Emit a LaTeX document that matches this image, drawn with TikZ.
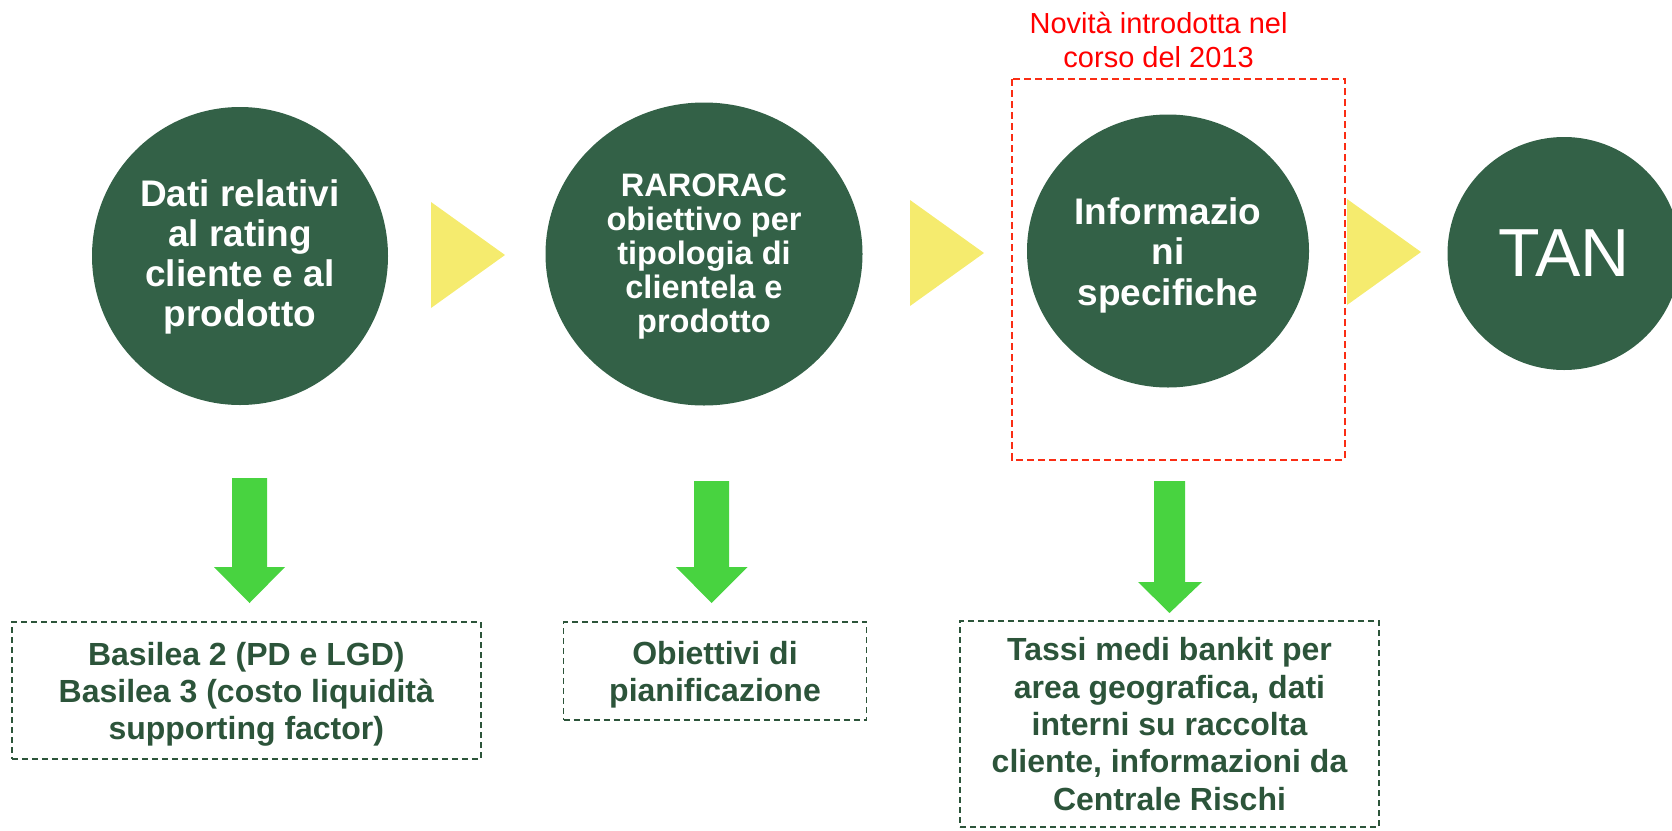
\documentclass[tikz,border=0pt]{standalone}
\usepackage{fontspec}
\setmainfont{Liberation Sans}
\usetikzlibrary{shapes.geometric}
\definecolor{darkgreen}{RGB}{51,97,71}
\definecolor{textgreen}{RGB}{44,84,58}
\definecolor{flowyellow}{RGB}{245,235,110}
\definecolor{arrowgreen}{RGB}{72,211,64}
\definecolor{newred}{RGB}{250,45,20}
\def\flowtri#1#2{(#1,#2-53) -- (#1+74,#2) -- (#1,#2+53) -- cycle}
\def\topstrut#1{\rule{0pt}{#1}}

\begin{document}
\begin{tikzpicture}[x=1pt,y=-1pt,
    bubble/.style={ellipse, fill=darkgreen, text=white, inner sep=0pt, align=center},
    infobox/.style={draw=textgreen, line width=1.5pt, dash pattern=on 6pt off 4pt,
        text=textgreen, align=center, inner sep=0pt,
        font=\bfseries\fontsize{32}{37.3}\selectfont}]
    \clip (0,0) rectangle (1672,830);

    % circles
    \node[bubble, minimum width=296pt, minimum height=298pt,
        font=\bfseries\fontsize{37}{40}\selectfont] (dati) at (240,256)
        {\topstrut{29pt}Dati relativi\\al rating\\cliente e al\\prodotto};
    \node[bubble, minimum width=317pt, minimum height=303pt,
        font=\bfseries\fontsize{32.5}{34}\selectfont] (raroc) at (704,254)
        {\topstrut{27pt}RARORAC\\obiettivo per\\tipologia di\\clientela e\\prodotto};
    \node[bubble, minimum width=282pt, minimum height=273pt,
        font=\bfseries\fontsize{37}{40.5}\selectfont] (info) at (1168,251)
        {\topstrut{35pt}Informazio\\ni\\specifiche};
    \node[bubble, minimum width=233pt, minimum height=233pt,
        font=\fontsize{68}{72}\selectfont] (tan) at (1564,253.5) {TAN};

    % yellow steps
    \fill[flowyellow] \flowtri{431}{255};
    \fill[flowyellow] \flowtri{910}{253};
    \fill[flowyellow] \flowtri{1347}{252};

    % novelty frame
    \draw[newred, line width=2pt, dash pattern=on 7pt off 4pt] (1012,79) rectangle (1345,459.6);
    \node[text=red, align=center, font=\fontsize{29}{34.7}\selectfont, inner sep=0pt]
        (novita) at (1158.6,40) {Novità introdotta nel\\corso del 2013};

    % green arrows
    \fill[arrowgreen] (232,478) -- (267,478) -- (267,567) -- (285,567) -- (249.5,603)
        -- (214,567) -- (232,567) -- cycle;
    \fill[arrowgreen] (694,481) -- (729,481) -- (729,567) -- (747.5,567) -- (711.5,603)
        -- (676,567) -- (694,567) -- cycle;
    \fill[arrowgreen] (1154,481) -- (1185,481) -- (1185,582) -- (1202,582) -- (1169.5,613)
        -- (1138,582) -- (1154,582) -- cycle;

    % source boxes
    \node[infobox, minimum width=469pt, minimum height=137pt] (basilea) at (246.3,690.4)
        {\topstrut{31pt}Basilea 2 (PD e LGD)\\Basilea 3 (costo liquidità\\supporting factor)};
    \node[infobox, minimum width=303pt, minimum height=98pt] (piani) at (715,671)
        {\topstrut{31pt}Obiettivi di\\pianificazione};
    \node[infobox, minimum width=419pt, minimum height=206pt] (tassi) at (1169.5,724)
        {Tassi medi bankit per\\area geografica, dati\\interni su raccolta\\cliente, informazioni da\\Centrale Rischi};
\end{tikzpicture}
\end{document}
